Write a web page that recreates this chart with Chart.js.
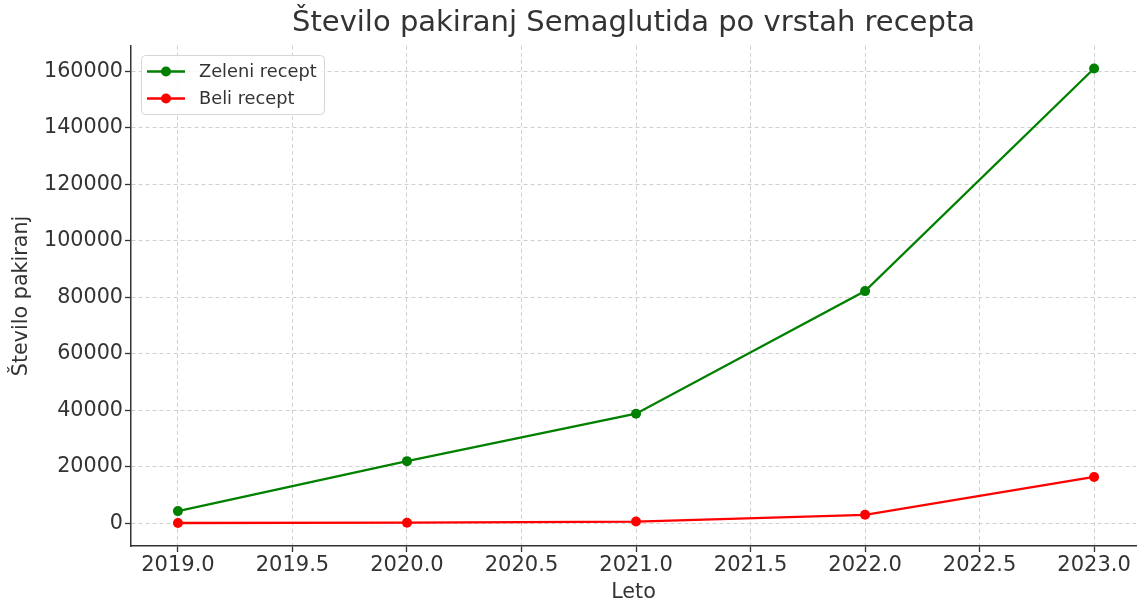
<!DOCTYPE html>
<html>
<head>
<meta charset="utf-8">
<script src="https://cdn.jsdelivr.net/npm/chart.js@4/dist/chart.umd.min.js"></script>
<style>
  html, body { margin: 0; padding: 0; background: #fff; }
  canvas { display: block; }
</style>
</head>
<body>
<canvas id="chart" width="1141" height="602"></canvas>
<script>
  // podatki, odčitani s slike
  const years = [2019, 2020, 2021, 2022, 2023];
  const zeleniRecept = [4300, 22000, 38800, 82200, 161000];
  const beliRecept = [100, 200, 600, 3000, 16400];
  const seriesLabels = ['Zeleni recept', 'Beli recept'];
  const seriesColors = ['#008000', '#ff0000'];
  const xTicks = [2019.0, 2019.5, 2020.0, 2020.5, 2021.0, 2021.5, 2022.0, 2022.5, 2023.0];
  const yTicks = [0, 20000, 40000, 60000, 80000, 100000, 120000, 140000, 160000];

  const FONT = "'DejaVu Sans', sans-serif";
  const TEXT = '#333333';

  function toPoints(values) {
    return years.map((y, i) => ({ x: y, y: values[i] }));
  }

  function makeDataset(label, values, color) {
    return {
      label,
      data: toPoints(values),
      borderColor: color,
      backgroundColor: color,
      borderWidth: 2.3,
      pointRadius: 5,
      pointHoverRadius: 5,
      pointBorderWidth: 0,
      pointBackgroundColor: color,
      tension: 0
    };
  }

  // legenda v stilu matplotlib (okvir v zgornjem levem kotu)
  const boxLegend = {
    id: 'boxLegend',
    afterDraw(chart) {
      const ctx = chart.ctx;
      const x = 141.5, y = 55.5, w = 183, h = 59, r = 4;
      ctx.save();
      ctx.beginPath();
      ctx.roundRect(x, y, w, h, r);
      ctx.fillStyle = 'rgba(255,255,255,0.85)';
      ctx.fill();
      ctx.strokeStyle = '#d6d6d6';
      ctx.lineWidth = 1;
      ctx.stroke();

      chart.data.datasets.forEach((ds, i) => {
        const cy = 71.5 + i * 27;
        ctx.strokeStyle = ds.borderColor;
        ctx.lineWidth = 2.3;
        ctx.beginPath();
        ctx.moveTo(147, cy);
        ctx.lineTo(185, cy);
        ctx.stroke();
        ctx.fillStyle = ds.borderColor;
        ctx.beginPath();
        ctx.arc(166, cy, 5, 0, Math.PI * 2);
        ctx.fill();
        ctx.fillStyle = TEXT;
        ctx.font = `17.8px ${FONT}`;
        ctx.textBaseline = 'middle';
        ctx.textAlign = 'left';
        ctx.fillText(ds.label, 199, cy + 1);
      });
      ctx.restore();
    }
  };

  const gridCommon = {
    color: '#d0d0d0',
    lineWidth: 1,
    tickColor: '#333333',
    tickLength: 6,
    tickWidth: 1.3,
    tickBorderDash: []
  };

  new Chart(document.getElementById('chart'), {
    type: 'line',
    data: {
      datasets: [
        makeDataset(seriesLabels[0], zeleniRecept, seriesColors[0]),
        makeDataset(seriesLabels[1], beliRecept, seriesColors[1])
      ]
    },
    options: {
      responsive: false,
      animation: false,
      devicePixelRatio: 1,
      layout: { padding: 0 },
      plugins: {
        legend: { display: false },
        tooltip: { enabled: false },
        title: {
          display: true,
          fullSize: false,
          text: 'Število pakiranj Semaglutida po vrstah recepta',
          color: TEXT,
          font: { family: FONT, size: 29, weight: 'normal', lineHeight: 1.2 },
          padding: { top: 6, bottom: 5 }
        }
      },
      scales: {
        x: {
          type: 'linear',
          min: 2018.795,
          // Chart.js pusti 5 px na desni zaradi točk, zato je max nekoliko manjši
          max: 2023.183,
          afterFit(scale) {
            scale.height = 56;
            scale.paddingLeft = 0;
            scale.paddingRight = 0;
          },
          afterBuildTicks(scale) { scale.ticks = xTicks.map((v) => ({ value: v })); },
          ticks: {
            color: TEXT,
            padding: 1,
            maxRotation: 0,
            autoSkip: false,
            font: { family: FONT, size: 21 },
            callback: (v) => Number(v).toFixed(1)
          },
          grid: gridCommon,
          border: { display: true, color: '#333333', width: 1.5, dash: [4, 3] },
          title: {
            display: true,
            text: 'Leto',
            color: TEXT,
            font: { family: FONT, size: 20.7 },
            padding: { top: 0, bottom: -3 }
          }
        },
        y: {
          type: 'linear',
          min: -8050,
          max: 169050,
          afterFit(scale) { scale.width = 131; },
          afterBuildTicks(scale) { scale.ticks = yTicks.map((v) => ({ value: v })); },
          ticks: {
            color: TEXT,
            padding: 2,
            autoSkip: false,
            font: { family: FONT, size: 20.7 },
            callback: (v) => String(v)
          },
          grid: gridCommon,
          border: { display: true, color: '#333333', width: 1.5, dash: [4, 3] },
          title: {
            display: true,
            text: 'Število pakiranj',
            color: TEXT,
            font: { family: FONT, size: 20.7 },
            padding: { top: 9, bottom: 0 }
          }
        }
      }
    },
    plugins: [boxLegend]
  });
</script>
</body>
</html>
